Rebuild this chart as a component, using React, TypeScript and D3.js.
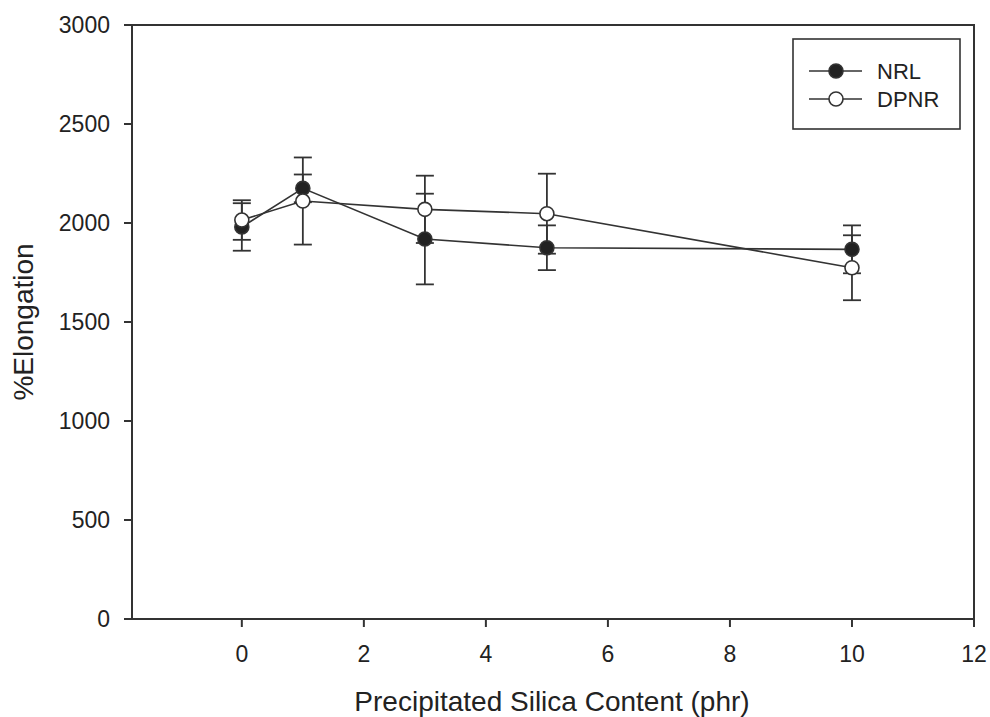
import React from "react";
import * as d3 from "d3";

const silica = [0, 1, 3, 5, 10];
const nrlValues = [1980, 2175, 1919, 1875, 1867];
const nrlErrors = [120, 70, 229, 113, 121];
const dpnrValues = [2015, 2111, 2069, 2047, 1774];
const dpnrErrors = [100, 220, 170, 202, 164];
const xTicks = [0, 2, 4, 6, 8, 10, 12];
const yTicks = [0, 500, 1000, 1500, 2000, 2500, 3000];

const W = 990, H = 717;
const L = 132, R = 974, T = 25, B = 619;
const FONT = "Arial, 'Liberation Sans', sans-serif";

export default function App() {
  const x = d3.scaleLinear().domain([-1.8, 12]).range([L, R]);
  const y = d3.scaleLinear().domain([0, 3000]).range([B, T]);
  const line = d3.line<[number, number]>().x(d => x(d[0])).y(d => y(d[1]));

  const series = [
    { name: "NRL", vals: nrlValues, errs: nrlErrors, fill: "#222" },
    { name: "DPNR", vals: dpnrValues, errs: dpnrErrors, fill: "#fff" },
  ];
  const stroke = "#333";
  const cap = 9;
  const r = 7;

  return (
    <svg width={W} height={H} style={{ position: "absolute", left: 0, top: 0, background: "#fff" }}>
      <rect x={0} y={0} width={W} height={H} fill="#fff" />
      {series.map(s => (
        <path key={s.name + "l"} d={line(silica.map((v, i) => [v, s.vals[i]]) as [number, number][]) || ""}
          fill="none" stroke={stroke} strokeWidth={1.6} />
      ))}
      {series.map(s => (
        <g key={s.name + "e"} stroke={stroke} strokeWidth={1.8}>
          {silica.map((v, i) => {
            const cx = x(v);
            const y1 = y(s.vals[i] + s.errs[i]);
            const y2 = y(s.vals[i] - s.errs[i]);
            return (
              <g key={i}>
                <line x1={cx} x2={cx} y1={y1} y2={y2} />
                <line x1={cx - cap} x2={cx + cap} y1={y1} y2={y1} />
                <line x1={cx - cap} x2={cx + cap} y1={y2} y2={y2} />
              </g>
            );
          })}
        </g>
      ))}
      {series.map(s => (
        <g key={s.name + "m"}>
          {silica.map((v, i) => (
            <circle key={i} cx={x(v)} cy={y(s.vals[i])} r={r} fill={s.fill} stroke={stroke} strokeWidth={1.6} />
          ))}
        </g>
      ))}
      <rect x={L} y={T} width={R - L} height={B - T} fill="none" stroke="#333" strokeWidth={2} />
      {yTicks.map(t => (
        <g key={"y" + t}>
          <line x1={L - 8} x2={L} y1={y(t)} y2={y(t)} stroke="#333" strokeWidth={2} />
          <text x={L - 22} y={y(t)} dy="0.36em" textAnchor="end" fontFamily={FONT} fontSize={23} fill="#222">{t}</text>
        </g>
      ))}
      {xTicks.map(t => (
        <g key={"x" + t}>
          <line x1={x(t)} x2={x(t)} y1={B} y2={B + 8} stroke="#333" strokeWidth={2} />
          <text x={x(t)} y={662} textAnchor="middle" fontFamily={FONT} fontSize={23} fill="#222">{t}</text>
        </g>
      ))}
      <text x={552} y={711} textAnchor="middle" fontFamily={FONT} fontSize={28} fill="#222">Precipitated Silica Content (phr)</text>
      <text transform={`translate(33, ${(T + B) / 2}) rotate(-90)`} textAnchor="middle" fontFamily={FONT} fontSize={28} fill="#222">%Elongation</text>
      <rect x={793} y={39} width={167} height={90} fill="#fff" stroke="#333" strokeWidth={1.6} />
      {series.map((s, i) => {
        const ly = 71 + i * 28;
        return (
          <g key={s.name + "leg"}>
            <line x1={809} x2={862} y1={ly} y2={ly} stroke={stroke} strokeWidth={1.6} />
            <circle cx={836} cy={ly} r={r} fill={s.fill} stroke={stroke} strokeWidth={1.6} />
            <text x={877} y={ly} dy="0.36em" fontFamily={FONT} fontSize={22} fill="#222">{s.name}</text>
          </g>
        );
      })}
    </svg>
  );
}
